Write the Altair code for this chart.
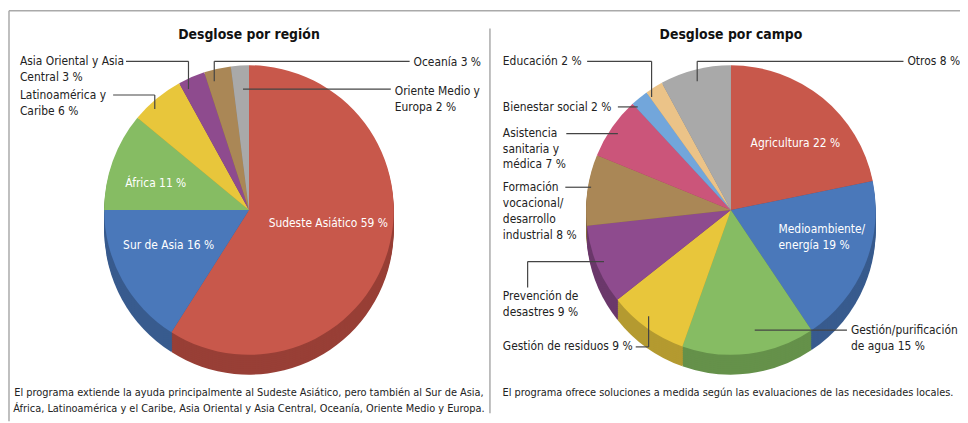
import altair as alt
import pandas as pd

# ---------------- data ----------------
region_cats = ["Sudeste Asiático", "Sur de Asia", "África", "Latinoamérica y Caribe",
               "Asia Oriental y Asia Central", "Oceanía", "Oriente Medio y Europa"]
region_vals = [59, 16, 11, 6, 3, 3, 2]
region_label_names = ["Sudeste Asiático", "Sur de Asia", "África", "Latinoamérica y\nCaribe",
                      "Asia Oriental y Asia\nCentral", "Oceanía", "Oriente Medio y\nEuropa"]

field_cats = ["Agricultura", "Medioambiente/energía", "Gestión/purificación de agua",
              "Gestión de residuos", "Prevención de desastres",
              "Formación vocacional/desarrollo industrial", "Asistencia sanitaria y médica",
              "Bienestar social", "Educación", "Otros"]
field_vals = [22, 19, 15, 9, 9, 8, 7, 2, 2, 8]
field_label_names = ["Agricultura", "Medioambiente/\nenergía", "Gestión/purificación\nde agua",
                     "Gestión de residuos", "Prevención de\ndesastres",
                     "Formación\nvocacional/\ndesarrollo\nindustrial", "Asistencia\nsanitaria y\nmédica",
                     "Bienestar social", "Educación", "Otros"]

title_left = "Desglose por región"
title_right = "Desglose por campo"
caption_left = ("El programa extiende la ayuda principalmente al Sudeste Asiático, pero también al Sur de Asia,\n"
                "África, Latinoamérica y el Caribe, Asia Oriental y Asia Central, Oceanía, Oriente Medio y Europa.")
caption_right = "El programa ofrece soluciones a medida según las evaluaciones de las necesidades locales."

# ---------------- styles / layout ----------------
region_colors = ["#C8584B", "#4A78BA", "#86BC63", "#E8C63B", "#8E4B8E", "#AA8756", "#A9A9A9"]
region_dark = ["#983F36", "#385B8E", "#65914A", "#B49A30", "#6B386B", "#84683F", "#838383"]
field_colors = ["#C8584B", "#4A78BA", "#86BC63", "#E8C63B", "#8E4B8E", "#AA8756", "#CB557A",
                "#72A6DB", "#EBC388", "#A9A9A9"]
field_dark = ["#983F36", "#385B8E", "#65914A", "#B49A30", "#6B386B", "#84683F", "#9C405D",
              "#5681AB", "#B8986A", "#838383"]

FONT = "DejaVu Sans Condensed, Liberation Sans Narrow, sans-serif"
OFF = 8  # page margin
R = 146
DEPTH = 20
LEFT_C = (251, 210)
RIGHT_C = (737, 210)

# label positions (page px): index -> (x, y, align, inside)
region_label_pos = {
    0: (331, 223, "center", True),
    1: (170, 245, "center", True),
    2: (157, 183, "center", True),
    3: (20, 94, "left", False),
    4: (20, 60, "left", False),
    5: (485, 61, "right", False),
    6: (398, 90, "left", False),
}
field_label_pos = {
    0: (802, 142, "center", True),
    1: (785, 229, "left", True),
    2: (858, 331, "left", False),
    3: (507, 347, "left", False),
    4: (507, 297, "left", False),
    5: (507, 187, "left", False),
    6: (507, 132, "left", False),
    7: (507, 106, "left", False),
    8: (507, 60, "left", False),
    9: (915, 60, "left", False),
}

leader_segments = [
    (127, 60, 190, 60), (190, 60, 190, 88),
    (114, 94, 156, 94), (156, 94, 156, 108),
    (216, 60, 413, 60), (216, 60, 216, 80),
    (245, 88, 394, 88),
    (592, 60, 657, 60), (657, 60, 657, 96),
    (703, 60, 911, 60), (703, 60, 703, 80),
    (623, 106, 643, 106),
    (571, 133, 623, 133),
    (570, 187, 596, 187),
    (532, 262, 609, 262), (532, 262, 532, 288),
    (641, 348, 654, 348), (654, 348, 654, 317),
    (761, 331, 854, 331),
]
border_segments = [
    (9, 9, 968, 9), (9, 9, 9, 423), (494, 27, 494, 415),
]


def pie_layers(cats, vals, colors, dark, center):
    df = pd.DataFrame({"cat": cats, "val": vals, "idx": list(range(len(cats)))})
    cx, cy = center
    layers = []
    for d in range(DEPTH, 0, -2):
        layers.append(
            alt.Chart(df).mark_arc(radius=R).encode(
                theta=alt.Theta("val:Q", stack=True),
                order=alt.Order("idx:Q"),
                color=alt.Color("cat:N", scale=alt.Scale(domain=cats, range=dark), legend=None),
                x=alt.value(cx - OFF), y=alt.value(cy - OFF + d),
            )
        )
    layers.append(
        alt.Chart(df).mark_arc(radius=R).encode(
            theta=alt.Theta("val:Q", stack=True),
            order=alt.Order("idx:Q"),
            color=alt.Color("cat:N", scale=alt.Scale(domain=cats, range=colors), legend=None),
            x=alt.value(cx - OFF), y=alt.value(cy - OFF),
        )
    )
    return layers


def label_rows(names, vals, pos):
    rows = []
    for i, (n, v) in enumerate(zip(names, vals)):
        x, y, align, inside = pos[i]
        rows.append({"text": f"{n} {v} %", "x": x - OFF, "y": y - OFF, "align": align, "inside": inside})
    return rows


def text_layer(rows, align, color, size=12, weight="normal", line_height=16):
    df = pd.DataFrame(rows)
    return alt.Chart(df).mark_text(
        align=align, baseline="middle", font=FONT, fontSize=size, fontWeight=weight,
        color=color, lineBreak="\n", lineHeight=line_height,
    ).encode(
        x=alt.X("x:Q", scale=None, axis=None),
        y=alt.Y("y:Q", scale=None, axis=None),
        text="text:N",
    )


def rule_layer(segs, color, width):
    df = pd.DataFrame([{"x": a - OFF, "y": b - OFF, "x2": c - OFF, "y2": d - OFF} for a, b, c, d in segs])
    return alt.Chart(df).mark_rule(color=color, strokeWidth=width).encode(
        x=alt.X("x:Q", scale=None, axis=None),
        y=alt.Y("y:Q", scale=None, axis=None),
        x2="x2:Q", y2="y2:Q",
    )


rows = label_rows(region_label_names, region_vals, region_label_pos) + \
       label_rows(field_label_names, field_vals, field_label_pos)

layers = []
layers.append(rule_layer(border_segments, "#AAAAAA", 1.5))
layers += pie_layers(region_cats, region_vals, region_colors, region_dark, LEFT_C)
layers += pie_layers(field_cats, field_vals, field_colors, field_dark, RIGHT_C)
layers.append(rule_layer(leader_segments, "#444444", 1.2))

for align in ["left", "center", "right"]:
    out = [r for r in rows if r["align"] == align and not r["inside"]]
    if out:
        layers.append(text_layer(out, align, "#222222"))
    ins = [r for r in rows if r["align"] == align and r["inside"]]
    if ins:
        layers.append(text_layer(ins, align, "#FFFFFF"))

titles = [
    {"text": title_left, "x": 251 - OFF, "y": 34 - OFF},
    {"text": title_right, "x": 737 - OFF, "y": 34 - OFF},
]
layers.append(text_layer(titles, "center", "#111111", size=14, weight="bold"))
captions = [
    {"text": caption_left, "x": 251 - OFF, "y": 395 - OFF},
    {"text": caption_right, "x": 734 - OFF, "y": 395 - OFF},
]
layers.append(text_layer(captions, "center", "#222222", size=11, line_height=16))

chart = alt.layer(*layers).resolve_scale(
    theta="independent", color="independent"
).properties(
    width=960, height=415, autosize="none", padding=0
).configure_view(stroke=None)

chart.save("out.html", embed_options={"renderer": "svg", "actions": False})
